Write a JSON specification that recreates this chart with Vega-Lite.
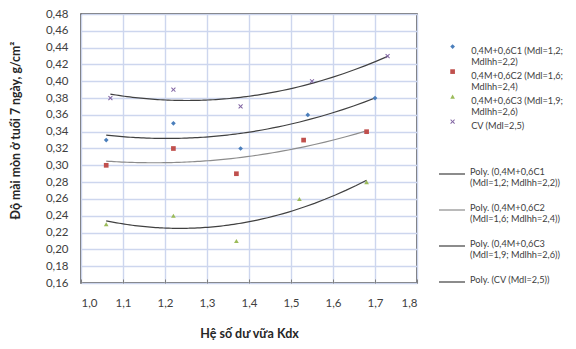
{
  "$schema": "https://vega.github.io/schema/vega-lite/v6.json",
  "autosize": {"type": "none"},
  "padding": {"left": 81, "top": 14, "right": 159, "bottom": 66},
  "width": 336,
  "height": 269,
  "background": "white",
  "config": {
    "font": "Lato",
    "view": {"stroke": "#404040", "strokeWidth": 1.5},
    "axis": {"labelFont": "Lato", "titleFont": "Lato", "labelColor": "#404040", "titleColor": "#262626", "ticks": false, "domain": false, "gridColor": "#cdd6ee", "gridWidth": 1.4, "gridOpacity": 1}
  },
  "data": {"values": [
    {"series": "0,4M+0,6C1 (Mdl=1,2; Mdlhh=2,2)", "trend": "Poly. (0,4M+0,6C1 (Mdl=1,2; Mdlhh=2,2))", "kdx": 1.06, "wear": 0.33},
    {"series": "0,4M+0,6C1 (Mdl=1,2; Mdlhh=2,2)", "trend": "Poly. (0,4M+0,6C1 (Mdl=1,2; Mdlhh=2,2))", "kdx": 1.22, "wear": 0.35},
    {"series": "0,4M+0,6C1 (Mdl=1,2; Mdlhh=2,2)", "trend": "Poly. (0,4M+0,6C1 (Mdl=1,2; Mdlhh=2,2))", "kdx": 1.38, "wear": 0.32},
    {"series": "0,4M+0,6C1 (Mdl=1,2; Mdlhh=2,2)", "trend": "Poly. (0,4M+0,6C1 (Mdl=1,2; Mdlhh=2,2))", "kdx": 1.54, "wear": 0.36},
    {"series": "0,4M+0,6C1 (Mdl=1,2; Mdlhh=2,2)", "trend": "Poly. (0,4M+0,6C1 (Mdl=1,2; Mdlhh=2,2))", "kdx": 1.70, "wear": 0.38},
    {"series": "0,4M+0,6C2 (Mdl=1,6; Mdlhh=2,4)", "trend": "Poly. (0,4M+0,6C2 (Mdl=1,6; Mdlhh=2,4))", "kdx": 1.06, "wear": 0.30},
    {"series": "0,4M+0,6C2 (Mdl=1,6; Mdlhh=2,4)", "trend": "Poly. (0,4M+0,6C2 (Mdl=1,6; Mdlhh=2,4))", "kdx": 1.22, "wear": 0.32},
    {"series": "0,4M+0,6C2 (Mdl=1,6; Mdlhh=2,4)", "trend": "Poly. (0,4M+0,6C2 (Mdl=1,6; Mdlhh=2,4))", "kdx": 1.37, "wear": 0.29},
    {"series": "0,4M+0,6C2 (Mdl=1,6; Mdlhh=2,4)", "trend": "Poly. (0,4M+0,6C2 (Mdl=1,6; Mdlhh=2,4))", "kdx": 1.53, "wear": 0.33},
    {"series": "0,4M+0,6C2 (Mdl=1,6; Mdlhh=2,4)", "trend": "Poly. (0,4M+0,6C2 (Mdl=1,6; Mdlhh=2,4))", "kdx": 1.68, "wear": 0.34},
    {"series": "0,4M+0,6C3 (Mdl=1,9; Mdlhh=2,6)", "trend": "Poly. (0,4M+0,6C3 (Mdl=1,9; Mdlhh=2,6))", "kdx": 1.06, "wear": 0.23},
    {"series": "0,4M+0,6C3 (Mdl=1,9; Mdlhh=2,6)", "trend": "Poly. (0,4M+0,6C3 (Mdl=1,9; Mdlhh=2,6))", "kdx": 1.22, "wear": 0.24},
    {"series": "0,4M+0,6C3 (Mdl=1,9; Mdlhh=2,6)", "trend": "Poly. (0,4M+0,6C3 (Mdl=1,9; Mdlhh=2,6))", "kdx": 1.37, "wear": 0.21},
    {"series": "0,4M+0,6C3 (Mdl=1,9; Mdlhh=2,6)", "trend": "Poly. (0,4M+0,6C3 (Mdl=1,9; Mdlhh=2,6))", "kdx": 1.52, "wear": 0.26},
    {"series": "0,4M+0,6C3 (Mdl=1,9; Mdlhh=2,6)", "trend": "Poly. (0,4M+0,6C3 (Mdl=1,9; Mdlhh=2,6))", "kdx": 1.68, "wear": 0.28},
    {"series": "CV (Mdl=2,5)", "trend": "Poly. (CV (Mdl=2,5))", "kdx": 1.07, "wear": 0.38},
    {"series": "CV (Mdl=2,5)", "trend": "Poly. (CV (Mdl=2,5))", "kdx": 1.22, "wear": 0.39},
    {"series": "CV (Mdl=2,5)", "trend": "Poly. (CV (Mdl=2,5))", "kdx": 1.38, "wear": 0.37},
    {"series": "CV (Mdl=2,5)", "trend": "Poly. (CV (Mdl=2,5))", "kdx": 1.55, "wear": 0.40},
    {"series": "CV (Mdl=2,5)", "trend": "Poly. (CV (Mdl=2,5))", "kdx": 1.73, "wear": 0.43}
  ]},
  "encoding": {
    "x": {"field": "kdx", "type": "quantitative", "scale": {"domain": [1.0, 1.8], "nice": false, "zero": false},
      "axis": {"values": [1.0, 1.1, 1.2, 1.3, 1.4, 1.5, 1.6, 1.7, 1.8], "labelExpr": "replace(format(datum.value, '.1f'), '.', ',')", "labelFontSize": 11.5, "labelPadding": 18, "ticks": true, "tickSize": -4, "tickColor": "#808080", "tickWidth": 1, "title": "Hệ số dư vữa Kdx", "titleFontSize": 12.5, "titleFontWeight": "bold", "titleBaseline": "middle", "titleY": 50}},
    "y": {"field": "wear", "type": "quantitative", "scale": {"domain": [0.16, 0.48], "nice": false, "zero": false},
      "axis": {"values": [0.16, 0.18, 0.2, 0.22, 0.24, 0.26, 0.28, 0.3, 0.32, 0.34, 0.36, 0.38, 0.4, 0.42, 0.44, 0.46, 0.48], "labelExpr": "replace(format(datum.value, '.2f'), '.', ',')", "labelFontSize": 11.5, "labelPadding": 13, "title": "Độ mài mòn ở tuổi 7 ngày, g/cm²", "titleFontSize": 12.3, "titleFontWeight": "bold", "titleBaseline": "middle", "titleX": -66, "titleY": 116}}
  },
  "layer": [
    {
      "transform": [{"regression": "wear", "on": "kdx", "method": "poly", "order": 2, "groupby": ["trend"]}],
      "mark": {"type": "line", "strokeWidth": 1.2},
      "encoding": {
        "stroke": {"field": "trend", "type": "nominal",
          "scale": {"domain": ["Poly. (0,4M+0,6C1 (Mdl=1,2; Mdlhh=2,2))", "Poly. (0,4M+0,6C2 (Mdl=1,6; Mdlhh=2,4))", "Poly. (0,4M+0,6C3 (Mdl=1,9; Mdlhh=2,6))", "Poly. (CV (Mdl=2,5))"], "range": ["#404040", "#8c8c8c", "#404040", "#404040"]},
          "legend": {"title": null, "orient": "none", "legendX": 357, "legendY": 146, "labelFont": "Lato", "labelFontSize": 9.2, "labelLineHeight": 13.5, "labelBaseline": "top", "labelColor": "#404040", "symbolType": "stroke", "symbolSize": 676, "symbolStrokeWidth": 1.2, "labelOffset": 4, "labelLimit": 200, "rowPadding": 7,
            "encode": {"labels": {"update": {"dy": {"value": -6}}}},
            "labelExpr": "length(datum.label) > 25 ? split(replace(datum.label, ' (Mdl', '\\n(Mdl'), '\\n') : datum.label"}}
      }
    },
    {
      "mark": {"type": "point", "filled": true, "opacity": 1, "size": 22},
      "encoding": {
        "fill": {"field": "series", "type": "nominal",
          "scale": {"domain": ["0,4M+0,6C1 (Mdl=1,2; Mdlhh=2,2)", "0,4M+0,6C2 (Mdl=1,6; Mdlhh=2,4)", "0,4M+0,6C3 (Mdl=1,9; Mdlhh=2,6)", "CV (Mdl=2,5)"], "range": ["#4a7ebb", "#c0504d", "#9bbb59", "#8064a2"]},
          "legend": {"title": null, "orient": "none", "legendX": 367, "legendY": 28, "labelFont": "Lato", "labelFontSize": 9.2, "labelLineHeight": 11, "labelBaseline": "top", "labelColor": "#404040", "symbolSize": 22, "labelOffset": 14, "labelLimit": 200, "rowPadding": -1,
            "encode": {"labels": {"update": {"dy": {"value": -6}}}},
            "labelExpr": "split(replace(datum.label, '; ', ';\\n'), '\\n')"}},
        "shape": {"field": "series", "type": "nominal",
          "scale": {"domain": ["0,4M+0,6C1 (Mdl=1,2; Mdlhh=2,2)", "0,4M+0,6C2 (Mdl=1,6; Mdlhh=2,4)", "0,4M+0,6C3 (Mdl=1,9; Mdlhh=2,6)", "CV (Mdl=2,5)"], "range": ["diamond", "square", "triangle-up", "M-1,-0.7L-0.7,-1L0,-0.3L0.7,-1L1,-0.7L0.3,0L1,0.7L0.7,1L0,0.3L-0.7,1L-1,0.7L-0.3,0Z"]},
          "legend": {"title": null, "orient": "none", "legendX": 367, "legendY": 28, "labelFont": "Lato", "labelFontSize": 9.2, "labelLineHeight": 11, "labelBaseline": "top", "labelColor": "#404040", "symbolSize": 22, "labelOffset": 14, "labelLimit": 200, "rowPadding": -1,
            "encode": {"labels": {"update": {"dy": {"value": -6}}}},
            "labelExpr": "split(replace(datum.label, '; ', ';\\n'), '\\n')"}}
      }
    }
  ]
}
